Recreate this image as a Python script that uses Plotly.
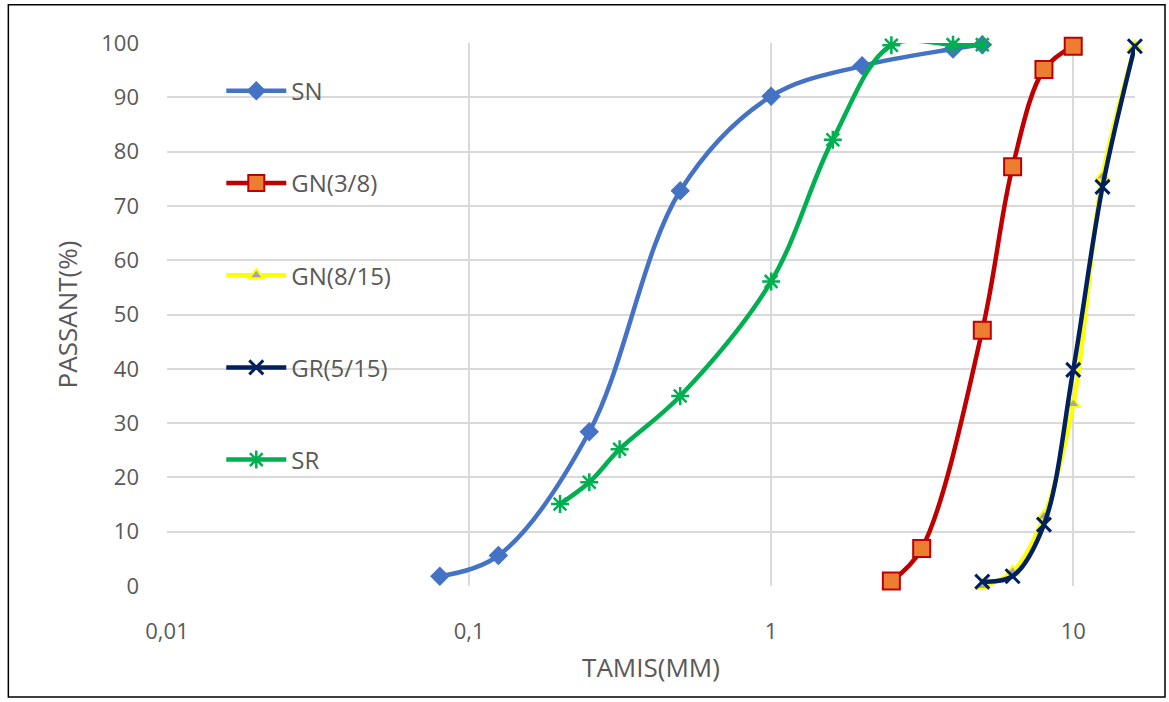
import plotly.graph_objects as go

# ---- data ----
sn_x = [0.08, 0.125, 0.25, 0.5, 1, 2, 4, 5]
sn_y = [1.8, 5.6, 28.4, 72.8, 90.2, 95.8, 98.9, 99.7]

gn38_x = [2.5, 3.15, 5, 6.3, 8, 10]
gn38_y = [0.9, 6.9, 47.1, 77.2, 95.1, 99.4]

gn815_x = [5, 6.3, 8, 10, 12.5, 16]
gn815_y = [0.0, 2.6, 12.8, 33.5, 75.4, 99.3]

gr515_x = [5, 6.3, 8, 10, 12.5, 16]
gr515_y = [0.8, 1.8, 11.3, 39.8, 73.5, 99.4]

sr_x = [0.2, 0.25, 0.315, 0.5, 1, 1.6, 2.5, 4, 5]
sr_y = [15.1, 19.1, 25.2, 35.0, 56.1, 82.2, 99.6, 99.7, 99.7]

x_tickvals = [0.01, 0.1, 1, 10]
x_ticktext = ["0,01", "0,1", "1", "10"]
y_tickvals = [0, 10, 20, 30, 40, 50, 60, 70, 80, 90, 100]

FONT = "Open Sans"
TXT = "#595959"
GRID = "#d9d9d9"

fig = go.Figure()

def add(name, x, y, color, lw, symbol, msize, mcolor, mline_color, mline_w, group):
    fig.add_trace(go.Scatter(
        x=x, y=y, name=name, mode="lines+markers",
        line=dict(color=color, width=lw, shape="spline", smoothing=1),
        marker=dict(symbol=symbol, size=msize, color=mcolor,
                    line=dict(color=mline_color, width=mline_w)),
        cliponaxis=False, legendgroup=group,
    ))

add("SN", sn_x, sn_y, "#4472C4", 4.5, "diamond", 15, "#4472C4", "#4472C4", 0, "a")
add("GN(3/8)", gn38_x, gn38_y, "#C00000", 4.5, "square", 17, "#ED7D31", "#C00000", 2, "b")
add("GN(8/15)", gn815_x, gn815_y, "#FFFF00", 4.5, "triangle-up", 12, "#A5A5A5", "#FFFF00", 2, "c")
add("GR(5/15)", gr515_x, gr515_y, "#002060", 4.5, "x-thin-open", 14, "#002060", "#002060", 3, "d")
add("SR", sr_x, sr_y, "#00B050", 4.5, "asterisk-open", 15, "#00B050", "#00B050", 2.5, "e")

pl, pr, pt, pb = 166.7, 1135, 43.3, 586
W, H = 1169, 702

def px_to_paper_x(px):
    return (px - pl) / (pr - pl)

def px_to_paper_y(py):
    return (pb - py) / (pb - pt)

fig.update_layout(
    width=W, height=H,
    margin=dict(l=pl, r=W - pr, t=pt, b=H - pb, pad=0),
    paper_bgcolor="white", plot_bgcolor="white",
    font=dict(family=FONT, color=TXT, size=22),
    showlegend=True,
    legend=dict(
        x=px_to_paper_x(221), y=px_to_paper_y(69), xanchor="left", yanchor="top",
        bgcolor="rgba(0,0,0,0)", font=dict(family=FONT, size=24, color=TXT),
        traceorder="grouped", tracegroupgap=58, itemwidth=60,
    ),
    xaxis=dict(
        type="log", range=[-2, 1.2045],
        tickvals=x_tickvals, ticktext=x_ticktext,
        showgrid=True, gridcolor=GRID, gridwidth=2,
        zeroline=False, showline=False, ticks="",
        tickfont=dict(family=FONT, size=22, color=TXT),
        ticklabelstandoff=30,
        title=dict(text="TAMIS(MM)", font=dict(family=FONT, size=26, color=TXT), standoff=14),
    ),
    yaxis=dict(
        range=[0, 100], tickvals=y_tickvals,
        showgrid=True, gridcolor=GRID, gridwidth=2,
        zeroline=False, showline=False, ticks="",
        tickfont=dict(family=FONT, size=22, color=TXT),
        ticklabelstandoff=27,
        title=dict(text="PASSANT(%)", font=dict(family=FONT, size=26, color=TXT), standoff=16),
    ),
    shapes=[
        dict(type="rect", xref="paper", yref="paper",
             x0=px_to_paper_x(8), x1=px_to_paper_x(1165),
             y0=px_to_paper_y(697), y1=px_to_paper_y(5),
             line=dict(color="black", width=1.5), fillcolor="rgba(0,0,0,0)", layer="below"),
    ],
)

fig.write_html("out.html")
